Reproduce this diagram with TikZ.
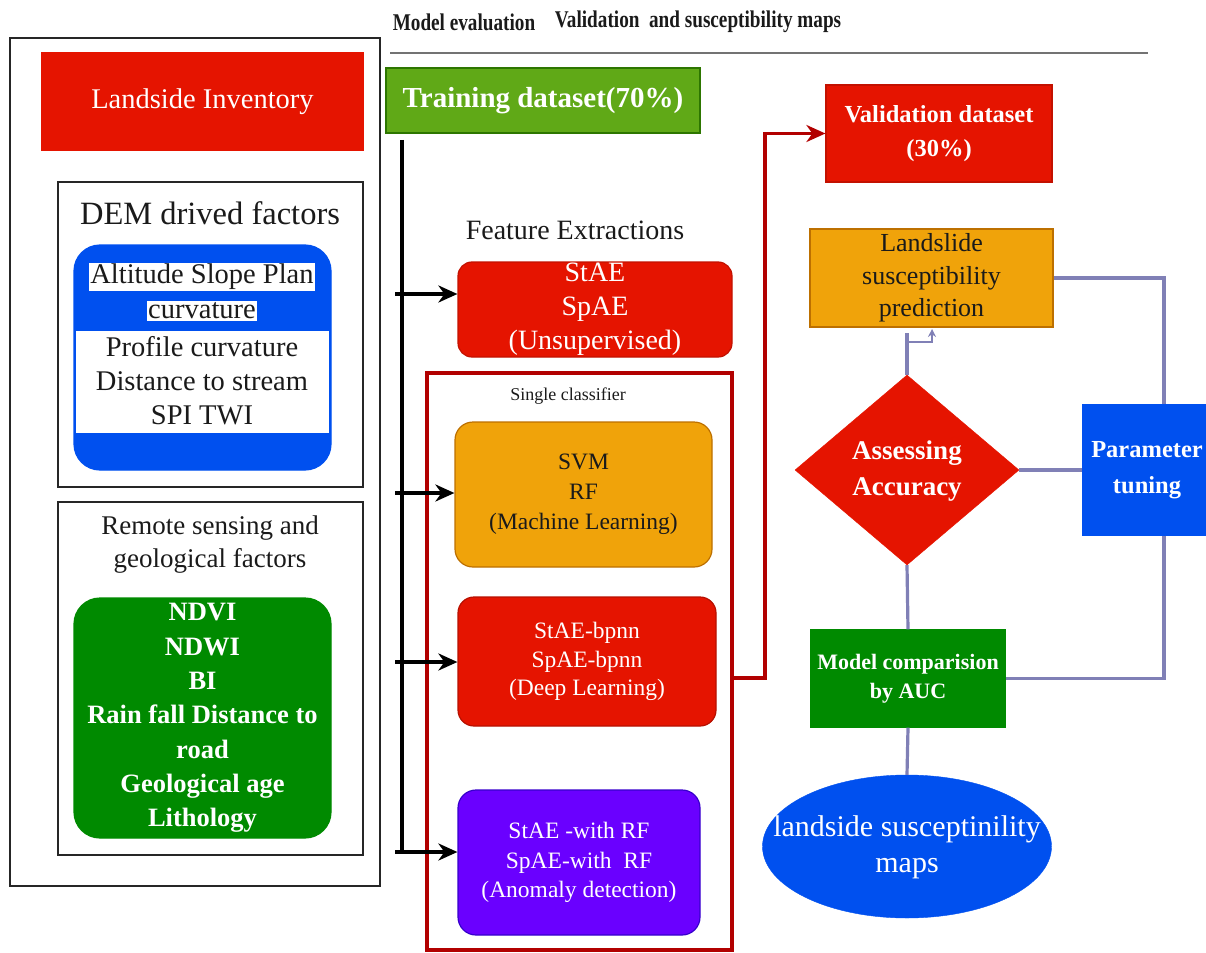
\documentclass[tikz,border=0pt]{standalone}
\usepackage{graphicx}
\usepackage{fontspec}
\setmainfont{Liberation Serif}
\usetikzlibrary{shapes.geometric,arrows.meta,calc}
\definecolor{cred}{HTML}{E51400}
\definecolor{cblue}{HTML}{0050EF}
\definecolor{cgreen}{HTML}{008A00}
\definecolor{ctrain}{HTML}{60A917}
\definecolor{ctrainb}{HTML}{2D7600}
\definecolor{corange}{HTML}{F0A30A}
\definecolor{corangeb}{HTML}{BD7000}
\definecolor{cpurple}{HTML}{6A00FF}
\definecolor{cpurpleb}{HTML}{3700CC}
\definecolor{cdred}{HTML}{B20000}
\definecolor{clav}{RGB}{128,128,182}
\definecolor{ctext}{HTML}{1A1A1A}
\newcommand\myfs[2]{\fontsize{#1pt}{#2pt}\selectfont}
\begin{document}
\begin{tikzpicture}[x=1pt,y=-1pt,
  box/.style={draw, inner sep=0pt, align=center, line width=1.2pt},
  frame/.style={draw=black!85, line width=2.6pt, inner sep=0pt},
  rbox/.style={box, rounded corners=16pt},
  busline/.style={line width=4.2pt, black},
  busarrow/.style={line width=4.2pt, black, -{Stealth[length=19pt,width=17pt,inset=6pt]}},
  conn/.style={draw=clav, line width=3.2pt},
  redconn/.style={draw=cdred, line width=3.4pt, -{Stealth[length=19pt,width=17pt,inset=6pt]}}
]
\useasboundingbox (0,0) rectangle (1206,952);

% ---------- left column ----------
\node[frame, minimum width=370pt, minimum height=848pt] (outer) at (195,462) {};
\node[box, draw=cred, fill=cred, text=white, minimum width=321pt, minimum height=97pt,
  font=\myfs{28.5}{32}] (inv) at (202.5,101.5) {Landside Inventory};

\node[frame, minimum width=305pt, minimum height=305pt] (dem) at (210.5,334.5) {};
\node[font=\myfs{32.5}{36}, text=ctext] (demt) at (210,213) {DEM drived factors};
\node[rbox, draw=cblue, fill=cblue, minimum width=257pt, minimum height=225pt, rounded corners=26pt] (demb) at (202.5,357.5) {};
\fill[white] (76,331) rectangle (329,433);
\node[fill=white, inner sep=1.5pt, font=\myfs{28.5}{32}, text=ctext] (a1) at (202,277) {Altitude Slope Plan};
\node[fill=white, inner sep=1.5pt, font=\myfs{28.5}{32}, text=ctext] (a2) at (202,311) {curvature};
\node[align=center, font=\myfs{28.5}{34}, text=ctext] (a3) at (202,381) {Profile curvature\\Distance to stream\\SPI TWI};

\node[frame, minimum width=305pt, minimum height=353pt] (rs) at (210.5,678.5) {};
\node[align=center, font=\myfs{27}{33}, text=ctext] (rst) at (210,545) {Remote sensing and\\geological factors};
\node[rbox, draw=cgreen, fill=cgreen, text=white, minimum width=257pt, minimum height=240pt,
  rounded corners=26pt, font=\myfs{26.5}{34.3}\bfseries] (rsb) at (202.5,718) {NDVI\\NDWI\\BI\\Rain fall Distance to\\road\\Geological age\\Lithology};

% ---------- header ----------
\node[text=ctext] (h1) at (464,22) {\scalebox{0.8}[1]{\myfs{24}{26}\bfseries Model evaluation}};
\node[text=ctext] (h2) at (698,22) {\scalebox{0.8}[1]{\myfs{24}{26}\bfseries Validation\ \ and susceptibility maps}};
\coordinate (hl1) at (390,53);
\coordinate (hl2) at (1148,53);
\draw[draw=black!55, line width=1.6pt] (hl1) -- (hl2);

% ---------- middle column ----------
\node[box, draw=ctrainb, fill=ctrain, text=white, minimum width=314pt, minimum height=65pt,
  font=\myfs{29}{32}\bfseries] (train) at (543,100.5) {Training dataset(70\%)};

\node[font=\myfs{28}{30}, text=ctext] (feat) at (575,230) {Feature Extractions};
\node[rbox, draw=cred!85!black, fill=cred, text=white, minimum width=274pt, minimum height=95pt,
  rounded corners=14pt, font=\myfs{28}{34}] (stae) at (595,309.5) {StAE\\SpAE\\(Unsupervised)};

\node[draw=cdred, line width=3.2pt, inner sep=0pt, minimum width=305pt, minimum height=577pt] (sc) at (579.5,661.5) {};
\node[font=\myfs{18}{20}, text=ctext] (sct) at (568,396) {Single classifier};

\node[rbox, draw=corangeb, fill=corange, text=ctext, minimum width=257pt, minimum height=145pt,
  rounded corners=18pt, font=\myfs{23.5}{30}] (svm) at (583.5,494.5) {SVM\\RF\\(Machine Learning)};
\node[rbox, draw=cred!80!black, fill=cred, text=white, minimum width=258pt, minimum height=129pt,
  rounded corners=16pt, font=\myfs{23.5}{28.5}] (bpnn) at (587,661.5) {StAE-bpnn\\SpAE-bpnn\\(Deep Learning)};
\node[rbox, draw=cpurpleb, fill=cpurple, text=white, minimum width=242pt, minimum height=145pt,
  rounded corners=18pt, font=\myfs{23.5}{29.5}] (anom) at (579,862.5) {StAE -with RF\\SpAE-with\ \ RF\\(Anomaly detection)};

% bus
\coordinate (bt) at (402,140);
\coordinate (bb) at (402,853);
\draw[busline] (bt) -- (bb);
\coordinate (b1) at (395,294);
\coordinate (b2) at (395,493);
\coordinate (b3) at (395,662);
\coordinate (b4) at (395,852);
\draw[busarrow] (b1) -- (b1 -| stae.west);
\draw[busarrow] (b2) -- (b2 -| svm.west);
\draw[busarrow] (b3) -- (b3 -| bpnn.west);
\draw[busarrow] (b4) -- (b4 -| anom.west);

% ---------- right column ----------
\node[box, draw=cred!85!black, fill=cred, text=white, minimum width=226pt, minimum height=97pt,
  font=\myfs{24.5}{34}\bfseries] (val) at (939,133.5) {Validation dataset\\(30\%)};
\coordinate (r0) at (732,678);
\coordinate (r1) at (765,678);
\draw[redconn] (r0) -- (r1) |- (val.west);

\node[box, draw=corangeb, fill=corange, text=ctext, minimum width=243pt, minimum height=98pt,
  font=\myfs{26}{32.5}] (pred) at (931.5,278) {Landslide\\susceptibility\\prediction};

\node[diamond, draw=cred, fill=cred, inner sep=0pt, minimum width=224pt, minimum height=190pt] (acc) at (907,470) {};
\node[text=white, align=center, font=\myfs{27}{36}\bfseries] (acct) at (907,471) {Assessing\\Accuracy};

\node[box, draw=cblue, fill=cblue, text=white, minimum width=128pt, minimum height=130pt,
  font=\myfs{24.5}{36}\bfseries] (ptune) at (1147,470) {Parameter\\tuning};

\node[box, draw=cgreen, fill=cgreen, text=white, minimum width=194pt, minimum height=97pt,
  font=\myfs{22}{29}\bfseries] (model) at (908,678.5) {Model comparision\\by AUC};

\node[ellipse, draw=cblue, fill=cblue, inner sep=0pt, minimum width=289pt, minimum height=143pt] (maps) at (907,846.5) {};
\node[text=white, align=center, font=\myfs{30}{36}] (mapst) at (907,847) {landside susceptinility\\maps};

% lavender connectors
\coordinate (tx) at (1164,0);
\draw[conn] (pred.east) -| (ptune.north -| tx);
\draw[conn] (acc.east) -- (ptune.west);
\draw[conn] (ptune.south -| tx) |- (model.east);
\draw[conn] (acc.south) -- (model.north);
\draw[conn] (model.south) -- (maps.north);
\coordinate (p1) at (907,333);
\draw[conn, line width=3.8pt] (acc.north) -- (p1);
\coordinate (p2) at (907,342);
\coordinate (p3) at (932,329);
\draw[draw=clav, line width=1.8pt, -{Stealth[length=8pt,width=8pt]}] (p2) -| (p3);
\end{tikzpicture}
\end{document}
